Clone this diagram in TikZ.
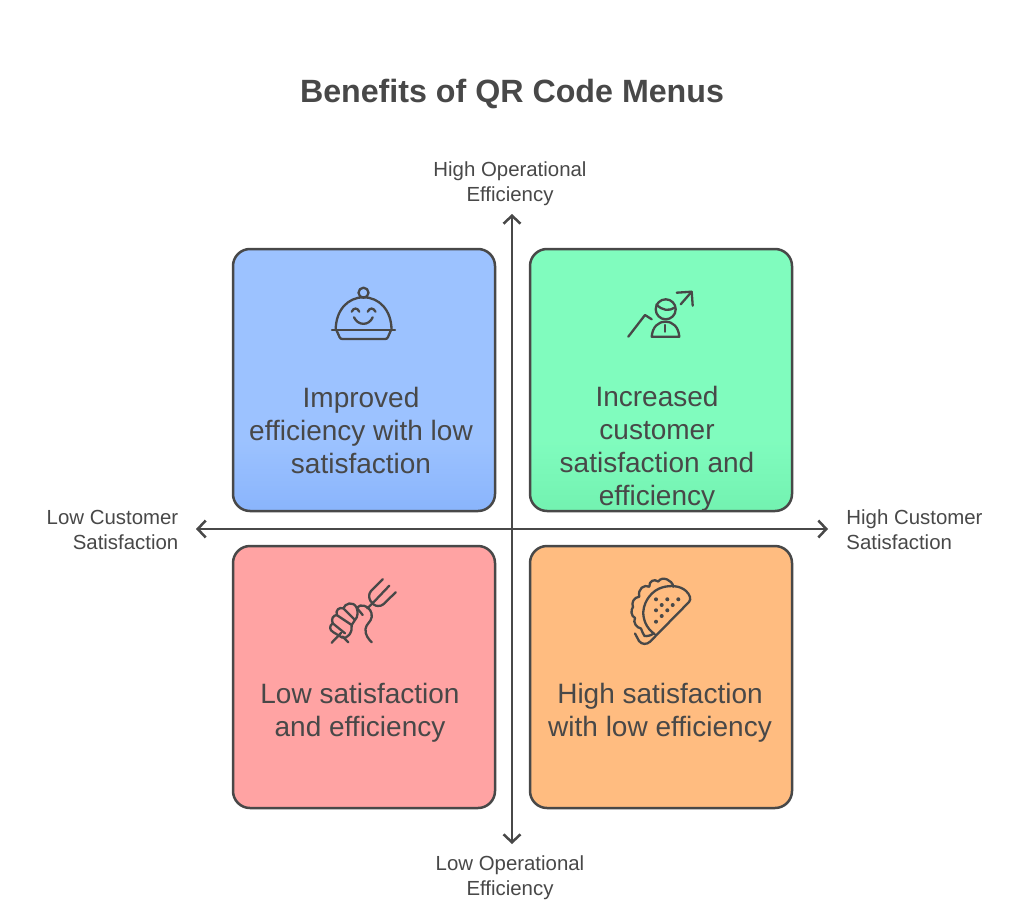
\documentclass[tikz,border=0pt]{standalone}
\usepackage{fontspec}
\setmainfont{Liberation Sans}
\usetikzlibrary{arrows.meta}
\definecolor{ink}{HTML}{484848}
\definecolor{cblue}{HTML}{9CC2FF}
\definecolor{cblueb}{HTML}{89B4FC}
\definecolor{cgreen}{HTML}{80FCBE}
\definecolor{cgreenb}{HTML}{72F2B0}
\definecolor{cred}{HTML}{FFA3A3}
\definecolor{corange}{HTML}{FFBC80}
\newcommand{\lowerfade}[2]{%
  \foreach \k in {1,...,30}{%
    \pgfmathsetmacro{\pct}{\k*100/30}%
    \pgfmathsetmacro{\ytop}{60+\k*2.4}%
    \fill[sharp corners,#2!\pct!#1] (-135,\ytop) rectangle (135,140);%
  }%
}
\tikzset{
  x=1pt,y=-1pt,
  quad/.style={draw=ink,line width=2.5pt,rounded corners=17pt,minimum width=262pt,minimum height=262pt,inner sep=0pt},
  quadtext/.style={text=ink,font=\fontsize{28}{33}\selectfont,align=center,inner sep=0pt},
  axlabel/.style={text=ink,font=\fontsize{20.4}{24.6}\selectfont,inner sep=0pt},
  axisline/.style={draw=ink,line width=2.5pt,-{Straight Barb[length=8pt,width=17pt,line width=2.5pt]}},
  icon/.style={draw=ink,line width=2.3pt,line cap=round,line join=round},
}
\begin{document}
\begin{tikzpicture}
\useasboundingbox (0,0) rectangle (1024,912);
\fill[white] (0,0) rectangle (1024,912);
\node[text=ink,font=\fontsize{32.2}{40}\bfseries\selectfont,inner sep=0pt] (title) at (512,94) {Benefits of QR Code Menus};

\coordinate (centre) at (512,529);
\node[quad,fill=cblue,path picture={\lowerfade{cblue}{cblueb}}] (qa) at (364,380) {};
\node[quad,fill=cgreen,path picture={\lowerfade{cgreen}{cgreenb}}] (qb) at (661,380) {};
\node[quad,fill=cred] (qc) at (364,677) {};
\node[quad,fill=corange] (qd) at (661,677) {};

\node[quadtext] (ta) at (361,430) {Improved\\efficiency with low\\satisfaction};
\node[quadtext] (tb) at (657,448.5) {Increased\\customer\\satisfaction and\\efficiency};
\node[quadtext] (tc) at (360,713) {Low satisfaction\\and efficiency};
\node[quadtext] (td) at (660,713) {High satisfaction\\with low efficiency};

\node[axlabel,align=center] (top) at (510,184) {High Operational\\Efficiency};
\node[axlabel,align=center] (bot) at (510,878) {Low Operational\\Efficiency};
\node[axlabel,align=right] (lft) at (112.5,530) {Low Customer\\Satisfaction};
\node[axlabel,align=left] (rgt) at (914.5,530) {High Customer\\Satisfaction};

\coordinate (atop) at (512,214);
\coordinate (abot) at (512,844);
\coordinate (alft) at (196,529);
\coordinate (argt) at (828,529);
\draw[axisline] (centre) -- (atop);
\draw[axisline] (centre) -- (abot);
\draw[axisline] (centre) -- (alft);
\draw[axisline] (centre) -- (argt);

% cloche
\begin{scope}[icon]
\draw (332,330.3) -- (395,330.3);
\draw (335.7,330) .. controls (335.7,310) and (348,297.3) .. (363.5,297.3) .. controls (379,297.3) and (391.5,310) .. (391.5,330);
\draw (363.5,292.7) circle (5);
\draw (336.7,330.7) -- (339.5,337) .. controls (340,338.5) and (341,339) .. (342.5,339) -- (385,339) .. controls (386.5,339) and (387.5,338.5) .. (388,337) -- (390.7,330.7);
\draw (351.7,311.7) .. controls (353.5,307.5) and (357.5,307.5) .. (359.3,311.7);
\draw (367.7,311.7) .. controls (369.5,307.5) and (373.5,307.5) .. (375.5,311.7);
\draw (354,317.3) .. controls (358,326) and (369,326) .. (372.7,317.3);
\end{scope}

% person with arrow
\begin{scope}[icon]
\draw (628.3,336.7) -- (645,315) -- (651.7,319.3);
\draw (665.7,309.3) circle (10);
\draw (656.5,304.5) .. controls (662,310.5) and (669,311.5) .. (675,307.5);
\draw (651.7,336.7) .. controls (652.5,327) and (658,321.7) .. (665.5,321.7) .. controls (673,321.7) and (678.5,327) .. (679.3,336.7) -- cycle;
\draw (665,325) -- (665,331.7);
\draw (680.7,304.3) -- (691.7,291.7);
\draw (676.7,292.7) -- (691.7,291.7) -- (692.7,305.7);
\end{scope}

% fist and fork
\begin{scope}[icon]
\draw (382.7,579.3) -- (371,591) .. controls (366,597) and (372,606) .. (378,606) .. controls (380,606) and (382,605.5) .. (383.3,604.3) -- (395.7,592.3);
\draw (389.3,585.7) -- (375.7,600) -- (367.3,608.3);
\draw (356.7,607.7) .. controls (359,605.5) and (361.5,605) .. (364,605.7) .. controls (369,607) and (372.5,612) .. (371.7,617) .. controls (371,622) and (366,624) .. (365.5,629) .. controls (365,635) and (368.5,639) .. (371.7,642.3);
\draw (356.7,607.7) -- (362.7,615);
\draw (343.3,608.3) .. controls (345,603.5) and (353,600.5) .. (356.7,607.7) .. controls (358,612) and (358,617) .. (355,620);
\draw (343.3,608.3) -- (355,620);
\draw (336.7,615) .. controls (335.5,610) and (339,607) .. (343.3,608.3);
\draw (336.7,615) -- (351.7,625);
\draw (332.7,623.3) .. controls (331,618.5) and (333,615.5) .. (336.7,615);
\draw (332.7,623.3) -- (345,633.3);
\draw (332.7,623.3) .. controls (329,626) and (329.5,630) .. (333,632) -- (342,637.5) .. controls (347,640) and (353,632) .. (351.7,625) -- (355,620);
\draw (331.7,642.7) -- (341,633);
\draw (348.3,642.3) -- (342.5,636.5);
\end{scope}

% taco
\begin{scope}[icon]
\draw (654.5,634) .. controls (646,628) and (643,619) .. (643.3,611.7) .. controls (644,600) and (653,590) .. (662,587.5) .. controls (670,585) and (680,585.5) .. (686,591) .. controls (690,594.5) and (691.5,599.5) .. (689,602) -- (650,641.7) .. controls (647,644.5) and (642,645) .. (639,641) -- (635,633.5);
\draw (673.3,586.7) .. controls (672.5,580) and (662,575.5) .. (658.3,581.5) .. controls (654,578.5) and (649,581) .. (649.3,586.7) .. controls (644,584) and (637.5,589) .. (639.3,596.7) .. controls (634,597) and (631,603) .. (633,607) .. controls (630.5,610) and (631,616) .. (635,618) .. controls (632.5,622.5) and (637,628) .. (641,628.5) .. controls (642,631) and (643,634) .. (644.5,636) .. controls (647,636.5) and (651,635.5) .. (653.5,633.5);
\end{scope}
\foreach \i/\px/\py in {1/656/599.3,2/667.3/599.3,3/678.3/599.3,4/661.7/605,5/672.7/605,6/656/610.3,7/667.3/610.3,8/661.7/616,9/656/621.7}
  \fill[ink] (\px,\py) circle (2);
\end{tikzpicture}
\end{document}
